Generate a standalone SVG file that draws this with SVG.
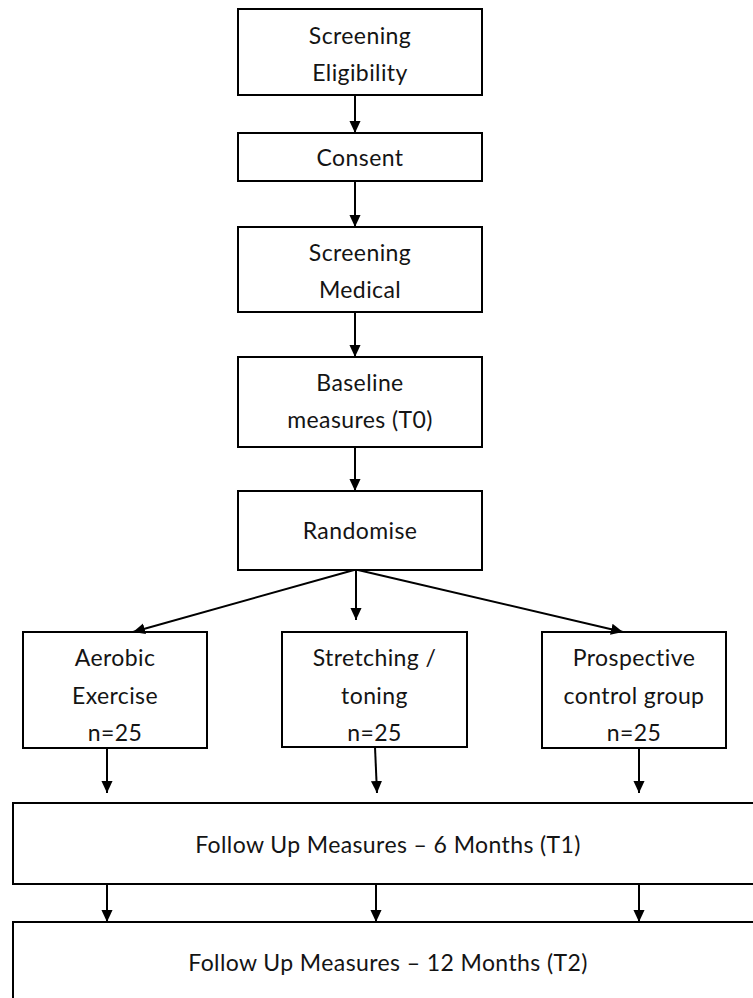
<svg xmlns="http://www.w3.org/2000/svg" width="753" height="998" viewBox="0 0 753 998">
<style>
.box{fill:#fff;stroke:#000;stroke-width:2}
.lbl{font-family:Lato,"Open Sans","Liberation Sans",sans-serif;font-size:23px;letter-spacing:0.4px;fill:#141414;text-anchor:middle}
.conn{stroke:#000;stroke-width:2;fill:none;marker-end:url(#ah)}
</style>
<defs>
<marker id="ah" markerUnits="userSpaceOnUse" markerWidth="12" markerHeight="14" refX="13" refY="6" orient="auto" viewBox="0 0 13 12">
<path d="M0,0 L13,6 L0,12 z" fill="#000"/>
</marker>
</defs>
<rect width="753" height="998" fill="#fff"/>
<g id="n-eligibility"><rect class="box" x="238" y="9" width="244" height="86"/><text class="lbl" x="360" y="44">Screening</text><text class="lbl" x="360" y="81">Eligibility</text></g>
<g id="n-consent"><rect class="box" x="238" y="133" width="244" height="48"/><text class="lbl" x="360" y="166">Consent</text></g>
<g id="n-medical"><rect class="box" x="238" y="227" width="244" height="85"/><text class="lbl" x="360" y="261">Screening</text><text class="lbl" x="360" y="298">Medical</text></g>
<g id="n-baseline"><rect class="box" x="238" y="357" width="244" height="90"/><text class="lbl" x="360" y="391">Baseline</text><text class="lbl" x="360" y="428">measures (T0)</text></g>
<g id="n-randomise"><rect class="box" x="238" y="491" width="244" height="79"/><text class="lbl" x="360" y="539">Randomise</text></g>
<g id="n-aerobic"><rect class="box" x="23" y="632" width="184" height="116"/><text class="lbl" x="115" y="666">Aerobic</text><text class="lbl" x="115" y="704">Exercise</text><text class="lbl" x="115" y="741">n=25</text></g>
<g id="n-stretching"><rect class="box" x="282" y="632" width="185" height="115"/><text class="lbl" x="374.5" y="666">Stretching /</text><text class="lbl" x="374.5" y="704">toning</text><text class="lbl" x="374.5" y="741">n=25</text></g>
<g id="n-control"><rect class="box" x="542" y="632" width="184" height="116"/><text class="lbl" x="634" y="666">Prospective</text><text class="lbl" x="634" y="704">control group</text><text class="lbl" x="634" y="741">n=25</text></g>
<g id="n-fu6"><rect class="box" x="13" y="803" width="750" height="81"/><text class="lbl" x="388" y="853">Follow Up Measures – 6 Months (T1)</text></g>
<g id="n-fu12"><rect class="box" x="13" y="922" width="750" height="90"/><text class="lbl" x="388" y="971">Follow Up Measures – 12 Months (T2)</text></g>
<g id="connectors">
<line class="conn" x1="355" y1="95" x2="355" y2="133"/>
<line class="conn" x1="355" y1="181" x2="355" y2="227"/>
<line class="conn" x1="355" y1="312" x2="355" y2="357"/>
<line class="conn" x1="355" y1="447" x2="355" y2="491"/>
<line class="conn" x1="354" y1="570" x2="133" y2="632"/>
<line class="conn" x1="356" y1="570" x2="356" y2="620"/>
<line class="conn" x1="358" y1="570" x2="623" y2="632"/>
<line class="conn" x1="107" y1="748" x2="107" y2="793"/>
<line class="conn" x1="375" y1="747" x2="377" y2="793"/>
<line class="conn" x1="639" y1="748" x2="639" y2="793"/>
<line class="conn" x1="107" y1="884" x2="107" y2="922"/>
<line class="conn" x1="376" y1="884" x2="376" y2="922"/>
<line class="conn" x1="639" y1="884" x2="639" y2="922"/>
</g>
</svg>
